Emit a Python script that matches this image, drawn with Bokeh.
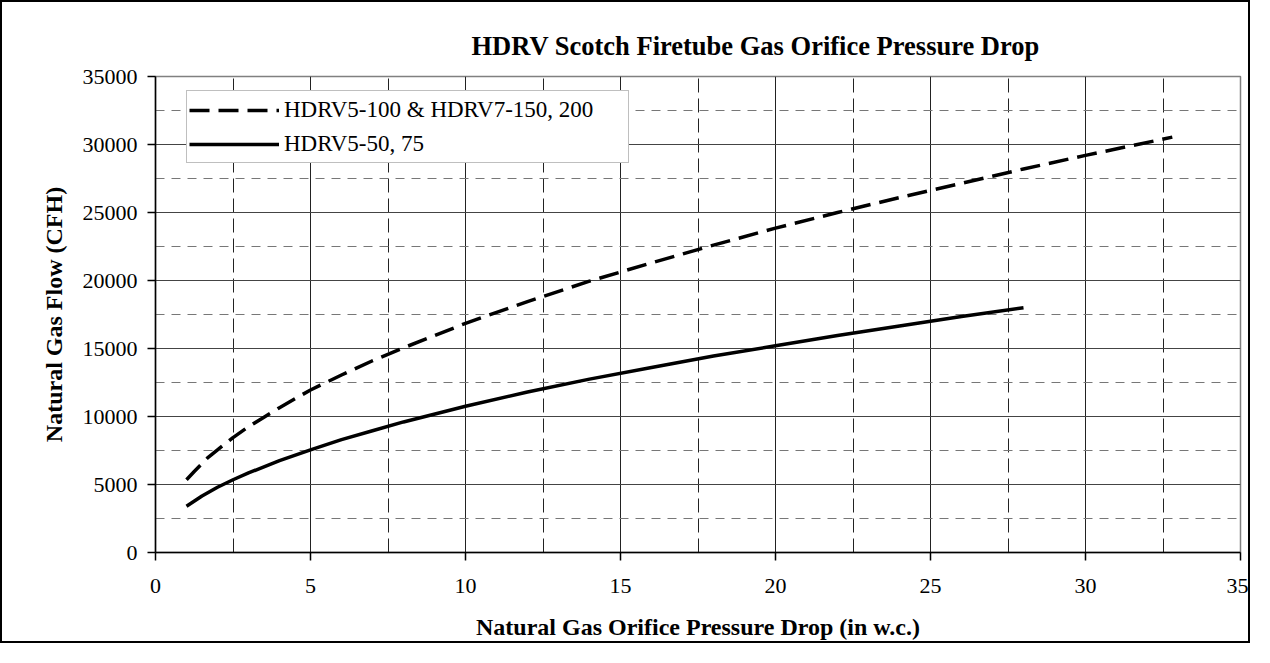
from bokeh.plotting import figure
from bokeh.models import Range1d, SingleIntervalTicker, Legend, LegendItem
from bokeh.embed import file_html
from bokeh.resources import INLINE

# Data
large_x = [1, 1.25, 1.7, 2, 2.5, 3, 3.5, 4, 4.5, 5, 6, 7, 8, 9, 10, 12, 14, 16,
           18, 20, 22, 24, 26, 28, 30, 32.8]
large_y = [5350, 5950, 7000, 7550, 8450, 9250, 9950, 10650, 11300, 11950, 13050,
           14100, 15050, 15950, 16850, 18450, 19950, 21300, 22600, 23850, 25000,
           26100, 27150, 28200, 29200, 30540]
small_x = [1, 1.5, 2, 2.5, 3, 4, 5, 6, 7, 8, 10, 12, 14, 16, 18, 20, 22, 24, 26, 28]
small_y = [3400, 4150, 4800, 5350, 5850, 6750, 7550, 8300, 8950, 9600, 10750, 11800,
           12750, 13600, 14450, 15200, 15950, 16650, 17350, 18000]

series_names = ["HDRV5-100 & HDRV7-150, 200", "HDRV5-50, 75"]
title_text = "HDRV Scotch Firetube Gas Orifice Pressure Drop"
x_title = "Natural Gas Orifice Pressure Drop (in w.c.)"
y_title = "Natural Gas Flow (CFH)"

FONT = "Liberation Serif"

p = figure(width=1250, height=643, output_backend="svg", toolbar_location=None,
           x_range=Range1d(0, 35), y_range=Range1d(0, 35000),
           min_border_left=153, min_border_right=12, min_border_top=74,
           min_border_bottom=93)
p.styles = {"border": "2px solid black"}

p.title.text = title_text
p.title.text_font = FONT
p.title.text_font_size = "26.5px"
p.title.text_font_style = "bold"
p.title.text_color = "black"
p.title.align = "left"
p.title.offset = 316
p.title.standoff = 31

p.outline_line_color = "#808080"
p.outline_line_width = 1.5

p.xaxis.ticker = SingleIntervalTicker(interval=5, num_minor_ticks=2)
p.yaxis.ticker = SingleIntervalTicker(interval=5000, num_minor_ticks=2)
p.xgrid.ticker = p.xaxis.ticker
p.ygrid.ticker = p.yaxis.ticker

p.xgrid.grid_line_color = "#222222"
p.xgrid.grid_line_width = 1
p.xgrid.minor_grid_line_color = "#222222"
p.xgrid.minor_grid_line_dash = "14 6"
p.ygrid.grid_line_color = "#444444"
p.ygrid.grid_line_width = 1
p.ygrid.minor_grid_line_color = "#777777"
p.ygrid.minor_grid_line_dash = "9 7"

for ax in (p.xaxis[0], p.yaxis[0]):
    ax.axis_line_color = "black"
    ax.axis_line_width = 1.5
    ax.major_tick_line_color = "black"
    ax.major_tick_line_width = 1.5
    ax.major_tick_out = 8
    ax.major_tick_in = 0
    ax.minor_tick_line_color = None
    ax.major_label_text_font = FONT
    ax.major_label_text_font_size = "22px"
    ax.major_label_text_color = "black"
    ax.axis_label_text_font = FONT
    ax.axis_label_text_font_size = "24px"
    ax.axis_label_text_font_style = "bold"
    ax.axis_label_text_color = "black"

p.xaxis.axis_label = x_title
p.yaxis.axis_label = y_title
p.xaxis.major_label_standoff = 18
p.yaxis.major_label_standoff = 10
p.xaxis.axis_label_standoff = 18
p.yaxis.axis_label_standoff = 13

r1 = p.line(large_x, large_y, line_color="black", line_width=3.5, line_dash="20 9")
r2 = p.line(small_x, small_y, line_color="black", line_width=3.5)

legend = Legend(items=[LegendItem(label=series_names[0], renderers=[r1]),
                       LegendItem(label=series_names[1], renderers=[r2])],
                location=(31, 389), margin=0, padding=2, spacing=1,
                glyph_width=90, label_height=33, label_width=342, label_standoff=5,
                label_text_font=FONT, label_text_font_size="23px",
                label_text_color="black",
                border_line_color="#808080", border_line_width=1.5,
                background_fill_alpha=1)
p.add_layout(legend, "center")

open("out.html", "w").write(file_html(p, INLINE))
